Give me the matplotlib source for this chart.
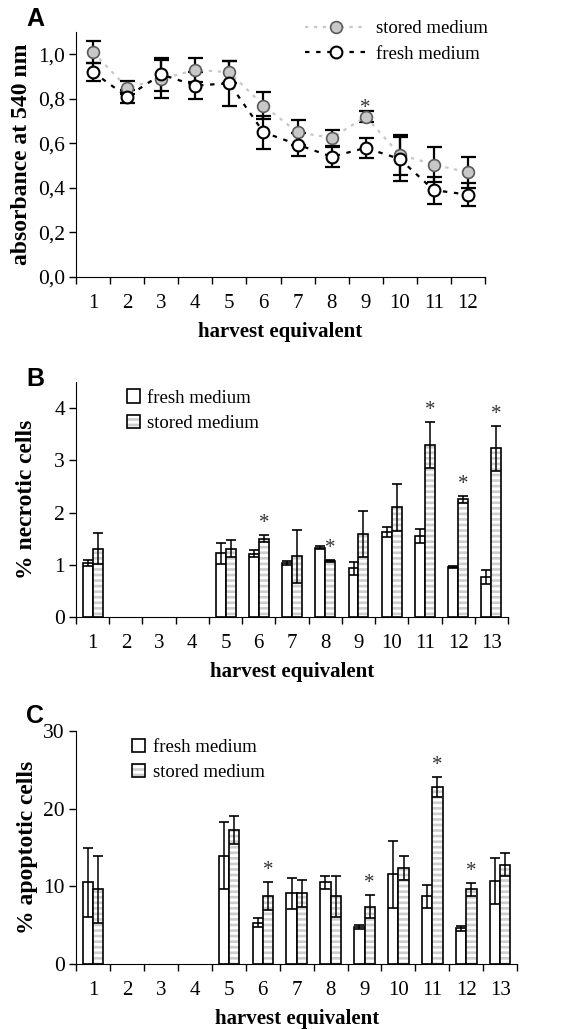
import numpy as np
import matplotlib
matplotlib.use('Agg')
import matplotlib.pyplot as plt
from matplotlib.ticker import FixedLocator, NullFormatter, FixedFormatter

STRIPE = '#cdcdcd'

plt.rcParams['font.family'] = 'Liberation Serif'
plt.rcParams['hatch.linewidth'] = 1.9
plt.rcParams['hatch.color'] = STRIPE

# panel A: absorbance
harvestA = list(range(1, 13))
storedA = [1.01, 0.85, 0.89, 0.93, 0.92, 0.77, 0.65, 0.625, 0.72, 0.55, 0.505, 0.47]
storedA_err = [0.05, 0.03, 0.085, 0.055, 0.05, 0.06, 0.055, 0.035, 0.025, 0.09, 0.08, 0.07]
freshA = [0.92, 0.81, 0.91, 0.86, 0.87, 0.65, 0.595, 0.54, 0.58, 0.53, 0.39, 0.37]
freshA_err = [0.04, 0.03, 0.075, 0.06, 0.10, 0.075, 0.05, 0.045, 0.045, 0.10, 0.06, 0.05]
sigA = [9]
ytickA = ['0,0', '0,2', '0,4', '0,6', '0,8', '1,0']

# panels B and C: bars (harvest 2-4 not measured)
harvestBC = [1, 5, 6, 7, 8, 9, 10, 11, 12, 13]
freshB = [1.03, 1.22, 1.21, 1.03, 1.33, 0.93, 1.63, 1.55, 0.95, 0.77]
freshB_err = [0.06, 0.20, 0.07, 0.04, 0.02, 0.13, 0.10, 0.13, 0.02, 0.13]
storedB = [1.31, 1.31, 1.50, 1.16, 1.08, 1.59, 2.10, 3.30, 2.25, 3.23]
storedB_err = [0.29, 0.16, 0.07, 0.51, 0.02, 0.44, 0.45, 0.44, 0.07, 0.43]
sigB = [6, 8, 11, 12, 13]

freshC = [10.5, 13.95, 5.3, 9.1, 10.5, 4.75, 11.55, 8.7, 4.6, 10.7]
freshC_err = [4.4, 4.3, 0.6, 2.0, 0.8, 0.25, 4.3, 1.5, 0.35, 3.0]
storedC = [9.6, 17.2, 8.7, 9.1, 8.7, 7.4, 12.4, 22.8, 9.6, 12.8]
storedC_err = [4.3, 1.8, 1.8, 1.7, 2.6, 1.5, 1.55, 1.3, 0.8, 1.45]
sigC = [6, 9, 11, 12]


def style_axis(ax, ncat):
    for s in ['top', 'right']:
        ax.spines[s].set_visible(False)
    ax.set_xlim(0.5, ncat + 0.5)
    ax.xaxis.set_major_locator(FixedLocator(range(1, ncat + 1)))
    ax.xaxis.set_minor_locator(FixedLocator(np.arange(0.5, ncat + 1, 1.0)))
    ax.xaxis.set_minor_formatter(NullFormatter())
    ax.tick_params(axis='x', which='major', length=0, pad=12, labelsize=15)
    ax.tick_params(axis='x', which='minor', length=5, width=1, direction='out')
    ax.tick_params(axis='y', length=5, width=1, direction='out', labelsize=15.5, pad=3)
    ax.set_xlabel('harvest equivalent', fontsize=15, fontweight='bold', labelpad=7)


def draw_bars(ax, fresh, fresh_err, stored, stored_err, sig, star_off):
    x = np.array(harvestBC)
    w = 0.3
    b1 = ax.bar(x - w / 2, fresh, w, color='white', edgecolor='black', linewidth=1.2, zorder=2)
    hb = ax.bar(x + w / 2, stored, w, color='white', edgecolor=STRIPE, hatch='---', linewidth=0, zorder=2)
    b2 = ax.bar(x + w / 2, stored, w, color='none', edgecolor='black', linewidth=1.2, zorder=3)
    ax.errorbar(x - w / 2, fresh, yerr=fresh_err, fmt='none', ecolor='black', elinewidth=1.1,
                capsize=3.8, capthick=1.2, zorder=4)
    ax.errorbar(x + w / 2, stored, yerr=stored_err, fmt='none', ecolor='black', elinewidth=1.1,
                capsize=3.8, capthick=1.2, zorder=4)
    for h in sig:
        i = harvestBC.index(h)
        ax.annotate('*', xy=(h + w / 2, stored[i] + stored_err[i]), xytext=(0, star_off),
                    textcoords='offset points', ha='center', va='baseline', fontsize=15, color='#333333')
    return b1, (hb, b2)


fig = plt.figure(figsize=(5.76, 10.29), dpi=100)

# ---- A ----
axA = fig.add_axes([0.132, 0.7308, 0.710, 0.238])
style_axis(axA, 12)
axA.errorbar(harvestA, storedA, yerr=storedA_err, fmt='none', ecolor='black', elinewidth=1.6,
             capsize=5.4, capthick=1.6, zorder=2)
axA.errorbar(harvestA, freshA, yerr=freshA_err, fmt='none', ecolor='black', elinewidth=1.6,
             capsize=5.4, capthick=1.6, zorder=2)
ls, = axA.plot(harvestA, storedA, color='#c8c8c8', lw=1.6, dashes=(1.5, 2.5), marker='o', ms=8.5,
               mfc='#c8c8c8', mec='#5a5a5a', mew=1.2, zorder=3, label='stored medium')
lf, = axA.plot(harvestA, freshA, color='black', lw=1.6, dashes=(2, 3), marker='o', ms=8.5,
               mfc='white', mec='black', mew=1.5, zorder=4, label='fresh medium')
for h in sigA:
    i = harvestA.index(h)
    axA.annotate('*', xy=(h, storedA[i] + storedA_err[i]), xytext=(0, -1), textcoords='offset points',
                 ha='center', va='baseline', fontsize=15, color='#333333')
axA.set_ylim(0, 1.1)
axA.yaxis.set_major_locator(FixedLocator([0, 0.2, 0.4, 0.6, 0.8, 1.0]))
axA.yaxis.set_major_formatter(FixedFormatter(ytickA))
axA.set_ylabel('absorbance at 540 nm', fontsize=17, fontweight='bold', labelpad=4)
axA.legend(handles=[ls, lf], loc='upper right', bbox_to_anchor=(1.025, 1.08), frameon=False,
           fontsize=13.5, handlelength=3.3, labelspacing=0.45, borderaxespad=0, handletextpad=0.5)
fig.text(0.045, 0.982, 'A', fontsize=18, fontweight='bold', family='Liberation Sans', va='center')

# ---- B ----
axB = fig.add_axes([0.132, 0.4004, 0.75, 0.2284])
style_axis(axB, 13)
hf, hs = draw_bars(axB, freshB, freshB_err, storedB, storedB_err, sigB, 5)
axB.set_ylim(0, 4.5)
axB.set_yticks([0, 1, 2, 3, 4])
axB.set_ylabel('% necrotic cells', fontsize=17, fontweight='bold', labelpad=12)
axB.legend([hf, hs], ['fresh medium', 'stored medium'], loc='upper left', bbox_to_anchor=(0.10, 1.0),
           frameon=False, fontsize=13.5, handlelength=0.7, handleheight=0.7, labelspacing=0.45,
           borderaxespad=0, handletextpad=0.4)
fig.text(0.045, 0.632, 'B', fontsize=18, fontweight='bold', family='Liberation Sans', va='center')

# ---- C ----
axC = fig.add_axes([0.132, 0.0632, 0.766, 0.2264])
style_axis(axC, 13)
hf, hs = draw_bars(axC, freshC, freshC_err, storedC, storedC_err, sigC, 5)
axC.set_ylim(0, 30)
axC.set_yticks([0, 10, 20, 30])
axC.set_ylabel('% apoptotic cells', fontsize=17, fontweight='bold', labelpad=4)
axC.legend([hf, hs], ['fresh medium', 'stored medium'], loc='upper left', bbox_to_anchor=(0.11, 1.0),
           frameon=False, fontsize=13.5, handlelength=0.7, handleheight=0.7, labelspacing=0.45,
           borderaxespad=0, handletextpad=0.4)
fig.text(0.045, 0.304, 'C', fontsize=18, fontweight='bold', family='Liberation Sans', va='center')

fig.savefig('out.png', dpi=100)
